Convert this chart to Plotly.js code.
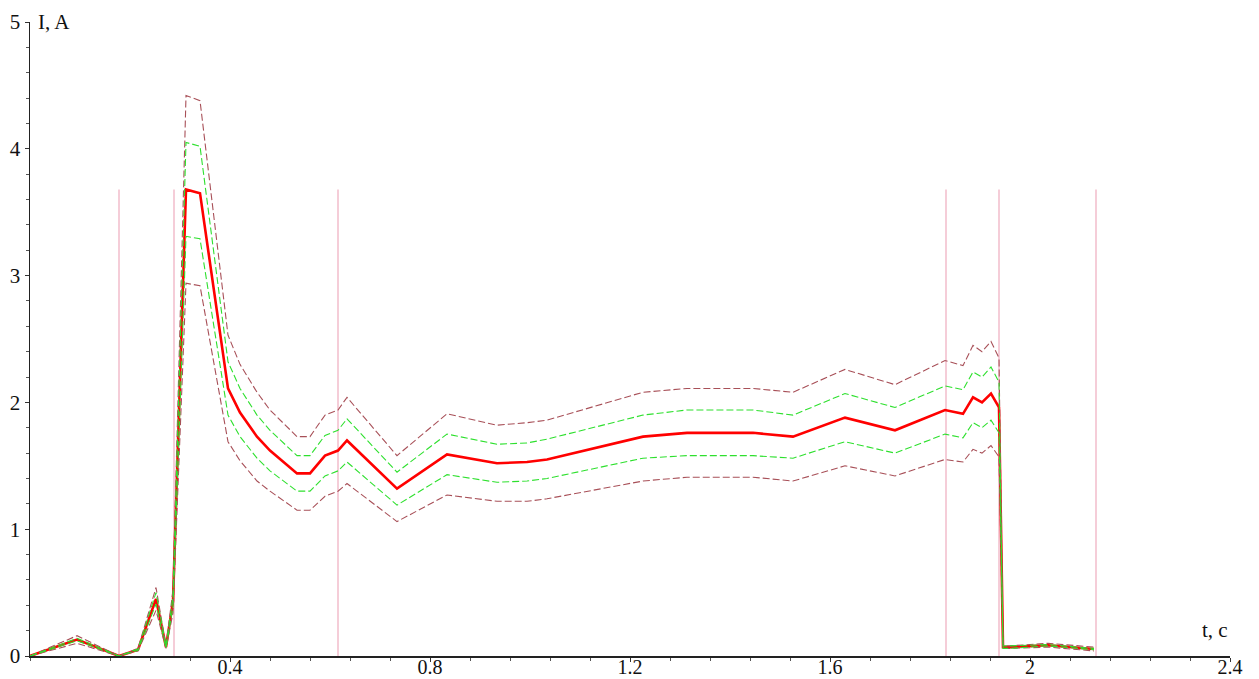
<!DOCTYPE html>
<html>
<head>
<meta charset="utf-8">
<script src="https://cdn.plot.ly/plotly-3.0.1.min.js"></script>
<style>
  html, body { margin: 0; padding: 0; background: #ffffff; }
  #chart { width: 1259px; height: 679px; }
</style>
</head>
<body>
<div id="chart"></div>
<script>
// time, s
var timeS = [0, 0.094, 0.178, 0.216, 0.252, 0.272, 0.286, 0.312, 0.34, 0.396, 0.42, 0.454, 0.48, 0.534, 0.56, 0.59, 0.616, 0.634, 0.734, 0.834, 0.934, 0.994, 1.034, 1.226, 1.314, 1.446, 1.526, 1.63, 1.73, 1.83, 1.866, 1.886, 1.904, 1.922, 1.938, 1.946, 1.96, 2.036, 2.128];
// main current, A
var currentMain = [0, 0.13, 0, 0.05, 0.45, 0.07, 0.43, 3.68, 3.65, 2.11, 1.92, 1.73, 1.62, 1.44, 1.44, 1.58, 1.62, 1.70, 1.32, 1.59, 1.52, 1.53, 1.55, 1.73, 1.76, 1.76, 1.73, 1.88, 1.78, 1.94, 1.91, 2.04, 2.00, 2.07, 1.96, 0.07, 0.07, 0.085, 0.055];
// upper / lower bands (green inner, brown outer)
var greenUpper = [0, 0.14, 0, 0.055, 0.50, 0.08, 0.47, 4.05, 4.02, 2.32, 2.11, 1.90, 1.78, 1.58, 1.58, 1.74, 1.78, 1.87, 1.45, 1.75, 1.67, 1.68, 1.71, 1.90, 1.94, 1.94, 1.90, 2.07, 1.96, 2.13, 2.10, 2.24, 2.20, 2.28, 2.16, 0.08, 0.08, 0.09, 0.06];
var greenLower = [0, 0.12, 0, 0.045, 0.41, 0.06, 0.39, 3.31, 3.29, 1.90, 1.73, 1.56, 1.46, 1.30, 1.30, 1.42, 1.46, 1.53, 1.19, 1.43, 1.37, 1.38, 1.40, 1.56, 1.58, 1.58, 1.56, 1.69, 1.60, 1.75, 1.72, 1.84, 1.80, 1.86, 1.76, 0.06, 0.06, 0.08, 0.05];
var brownUpper = [0, 0.16, 0, 0.06, 0.54, 0.08, 0.52, 4.42, 4.38, 2.53, 2.30, 2.08, 1.94, 1.73, 1.73, 1.90, 1.94, 2.04, 1.58, 1.91, 1.82, 1.84, 1.86, 2.08, 2.11, 2.11, 2.08, 2.26, 2.14, 2.33, 2.29, 2.45, 2.40, 2.48, 2.35, 0.08, 0.08, 0.10, 0.07];
var brownLower = [0, 0.10, 0, 0.04, 0.36, 0.06, 0.34, 2.94, 2.92, 1.69, 1.54, 1.38, 1.30, 1.15, 1.15, 1.26, 1.30, 1.36, 1.06, 1.27, 1.22, 1.22, 1.24, 1.38, 1.41, 1.41, 1.38, 1.50, 1.42, 1.55, 1.53, 1.63, 1.60, 1.66, 1.57, 0.06, 0.06, 0.07, 0.04];
// vertical stage markers
var markerTimes = [0.178, 0.288, 0.616, 1.832, 1.938, 2.132];
var markerTop = 3.68;

var xTicks = [0.4, 0.8, 1.2, 1.6, 2, 2.4];
var xTickText = ["0.4", "0.8", "1.2", "1.6", "2", "2.4"];
var yTicks = [0, 1, 2, 3, 4, 5];
var yTickText = ["0", "1", "2", "3", "4", "5"];

var mx = [], my = [];
markerTimes.forEach(function (t) { mx.push(t, t, null); my.push(0, markerTop, null); });

var serif = "'Liberation Serif', 'Times New Roman', serif";
var dashPat = "7px,3px";

var traces = [
  { x: mx, y: my, mode: 'lines', line: { color: '#f2bccb', width: 1.5 }, hoverinfo: 'skip', showlegend: false },
  { x: timeS, y: currentMain, mode: 'lines', line: { color: '#ff0000', width: 2.6 }, showlegend: false },
  { x: timeS, y: brownUpper, mode: 'lines', line: { color: '#a85058', width: 1.1, dash: dashPat }, showlegend: false },
  { x: timeS, y: brownLower, mode: 'lines', line: { color: '#a85058', width: 1.1, dash: dashPat }, showlegend: false },
  { x: timeS, y: greenUpper, mode: 'lines', line: { color: '#2ee02e', width: 1.1, dash: dashPat }, showlegend: false },
  { x: timeS, y: greenLower, mode: 'lines', line: { color: '#2ee02e', width: 1.1, dash: dashPat }, showlegend: false }
];

var layout = {
  width: 1259, height: 679,
  margin: { l: 30, r: 29, t: 22, b: 23, pad: 0 },
  paper_bgcolor: '#ffffff', plot_bgcolor: '#ffffff',
  showlegend: false,
  font: { family: serif, size: 21, color: '#111111' },
  xaxis: {
    range: [0, 2.4], showgrid: false, zeroline: false,
    showline: true, linecolor: '#222222', linewidth: 1.5,
    tickmode: 'array', tickvals: xTicks, ticktext: xTickText,
    ticks: 'outside', ticklen: 4, tickcolor: '#333333', tickwidth: 1,
    ticklabelstandoff: -12,
    tickfont: { family: serif, size: 20, color: '#111111' },
    minor: { dtick: 0.08, tick0: 0, ticks: 'outside', ticklen: 3, tickcolor: '#555555', showgrid: false }
  },
  yaxis: {
    range: [0, 5], showgrid: false, zeroline: false,
    showline: true, linecolor: '#222222', linewidth: 1.5,
    tickmode: 'array', tickvals: yTicks, ticktext: yTickText,
    ticks: 'outside', ticklen: 4, tickcolor: '#333333', tickwidth: 1,
    tickfont: { family: serif, size: 21, color: '#111111' },
    minor: { dtick: 0.2, tick0: 0, ticks: 'outside', ticklen: 3, tickcolor: '#555555', showgrid: false }
  },
  annotations: [
    { text: 'I, A', xref: 'x', yref: 'y', x: 0, y: 5, xanchor: 'left', yanchor: 'middle', xshift: 6, showarrow: false,
      font: { family: serif, size: 21, color: '#111111' } },
    { text: 't, c', xref: 'x', yref: 'y', x: 2.4, y: 0, xanchor: 'right', yanchor: 'bottom', yshift: 12, showarrow: false,
      font: { family: serif, size: 21, color: '#111111' } }
  ]
};

Plotly.newPlot('chart', traces, layout, { displayModeBar: false, staticPlot: true });
</script>
</body>
</html>
